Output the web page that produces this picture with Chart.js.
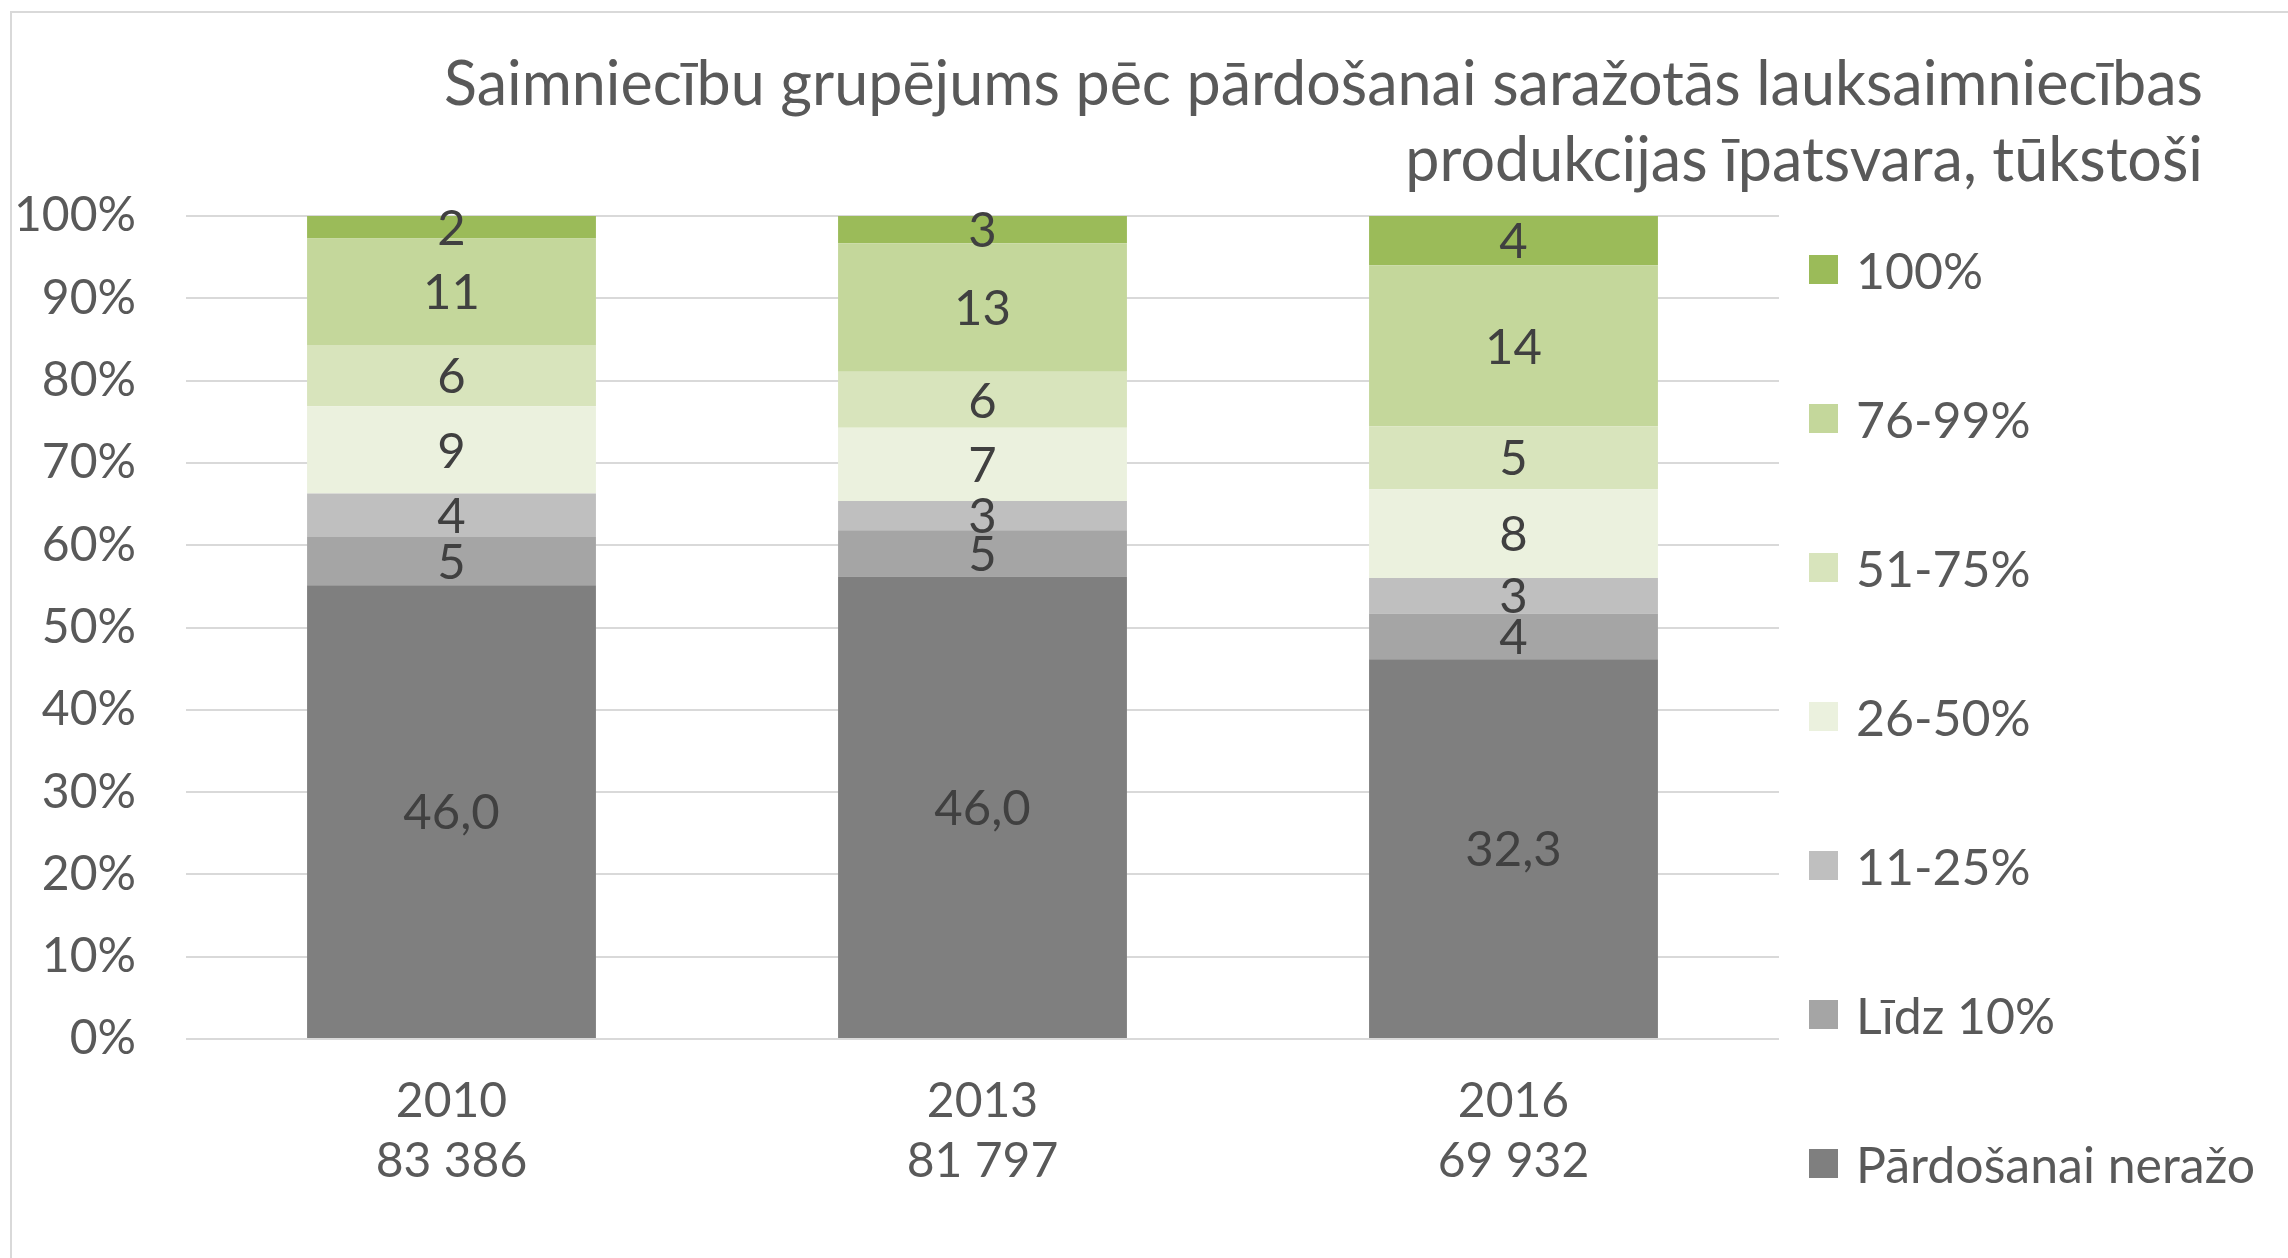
<!DOCTYPE html>
<html>
<head>
<meta charset="utf-8">
<script src="https://cdn.jsdelivr.net/npm/chart.js@4/dist/chart.umd.min.js"></script>
<style>
  html, body { margin: 0; padding: 0; background: #ffffff; }
  body { width: 2288px; height: 1258px; position: relative; overflow: hidden; font-family: 'Lato', 'Open Sans', sans-serif; }
  #frame { position: absolute; left: 10px; top: 11px; width: 2400px; height: 1400px; border: 2px solid #d9d9d9; box-sizing: border-box; }
  #chart { position: absolute; left: 0; top: 0; }
  #title { position: absolute; right: 85px; top: 44px; text-align: right; color: #595959; font-size: 61px; line-height: 76px; white-space: nowrap; }
  #legend { position: absolute; left: 1809px; top: 195px; }
  .lg { display: flex; align-items: center; height: 149px; }
  .lg .box { width: 29px; height: 29px; margin-right: 18px; }
  .lg .txt { font-size: 50px; color: #595959; white-space: nowrap; }
</style>
</head>
<body>
<div id="frame"></div>
<canvas id="chart" width="2288" height="1258"></canvas>
<div id="title">Saimniecību grupējums pēc pārdošanai saražotās lauksaimniecības<br>produkcijas īpatsvara, tūkstoši</div>
<div id="legend"></div>
<script>
// Categories and their totals (x tick labels)
const categories = ['2010', '2013', '2016'];
const totals = ['83 386', '81 797', '69 932'];

// Series names (bottom to top) and colours
const seriesNames = ['Pārdošanai neražo', 'Līdz 10%', '11-25%', '26-50%', '51-75%', '76-99%', '100%'];
const seriesColors = ['#7f7f7f', '#a5a5a5', '#bfbfbf', '#ebf1de', '#d8e4bc', '#c4d79b', '#9bbb59'];

// Values, thousands of farms
const neRazo  = [46.0, 46.0, 32.3];
const lidz10  = [4.88, 4.6, 3.9];
const p11_25  = [4.42, 2.9, 3.02];
const p26_50  = [8.83, 7.3, 7.55];
const p51_75  = [6.22, 5.55, 5.36];
const p76_99  = [10.8, 12.8, 13.69];
const p100    = [2.27, 2.7, 4.19];

// Y tick values
const yTicks = [0, 10, 20, 30, 40, 50, 60, 70, 80, 90, 100];

const seriesValues = [neRazo, lidz10, p11_25, p26_50, p51_75, p76_99, p100];
const sums = categories.map((_, i) => seriesValues.reduce((s, arr) => s + arr[i], 0));

const FONT = "'Lato', 'Open Sans', sans-serif";

const datasets = seriesNames.map((name, k) => ({
  label: name,
  raw: seriesValues[k],
  data: seriesValues[k].map((v, i) => v / sums[i] * 100),
  backgroundColor: seriesColors[k],
  borderWidth: 0,
  categoryPercentage: 1.0,
  barPercentage: 0.544
}));

const labelPlugin = {
  id: 'segLabels',
  afterDatasetsDraw(chart) {
    const ctx = chart.ctx;
    ctx.save();
    ctx.font = '49px ' + FONT;
    ctx.fillStyle = '#404040';
    ctx.textAlign = 'center';
    ctx.textBaseline = 'middle';
    chart.data.datasets.forEach((ds, k) => {
      const meta = chart.getDatasetMeta(k);
      meta.data.forEach((el, i) => {
        const p = el.getProps(['x', 'y', 'base'], true);
        const v = ds.raw[i];
        const txt = k === 0 ? v.toFixed(1).replace('.', ',') : String(Math.round(v));
        ctx.fillText(txt, p.x, (p.y + p.base) / 2 + 2);
      });
    });
    ctx.restore();
  }
};

new Chart(document.getElementById('chart'), {
  type: 'bar',
  data: {
    labels: categories.map((c, i) => [c, totals[i]]),
    datasets: datasets
  },
  options: {
    responsive: false,
    animation: false,
    layout: { padding: { top: 216, right: 509, left: 0, bottom: 0 } },
    plugins: { legend: { display: false }, tooltip: { enabled: false }, title: { display: false } },
    scales: {
      x: {
        stacked: true,
        grid: { display: false, drawTicks: false },
        border: { display: false },
        ticks: { color: '#595959', font: { family: FONT, size: 48, lineHeight: 1.25 }, padding: 33, maxRotation: 0 },
        afterFit(s) { s.height = 219; }
      },
      y: {
        stacked: true,
        min: 0,
        max: 100,
        afterBuildTicks(s) { s.ticks = yTicks.map(v => ({ value: v })); },
        grid: { color: '#d9d9d9', lineWidth: 2, drawTicks: false },
        border: { display: false },
        ticks: { color: '#595959', font: { family: FONT, size: 48 }, padding: 50, callback: v => v + '%' },
        afterFit(s) { s.width = 186; }
      }
    }
  },
  plugins: [labelPlugin]
});

// HTML legend (top series first)
const lg = document.getElementById('legend');
for (let k = seriesNames.length - 1; k >= 0; k--) {
  const row = document.createElement('div');
  row.className = 'lg';
  const b = document.createElement('div');
  b.className = 'box';
  b.style.background = seriesColors[k];
  const t = document.createElement('div');
  t.className = 'txt';
  t.textContent = seriesNames[k];
  row.appendChild(b); row.appendChild(t);
  lg.appendChild(row);
}
</script>
</body>
</html>
